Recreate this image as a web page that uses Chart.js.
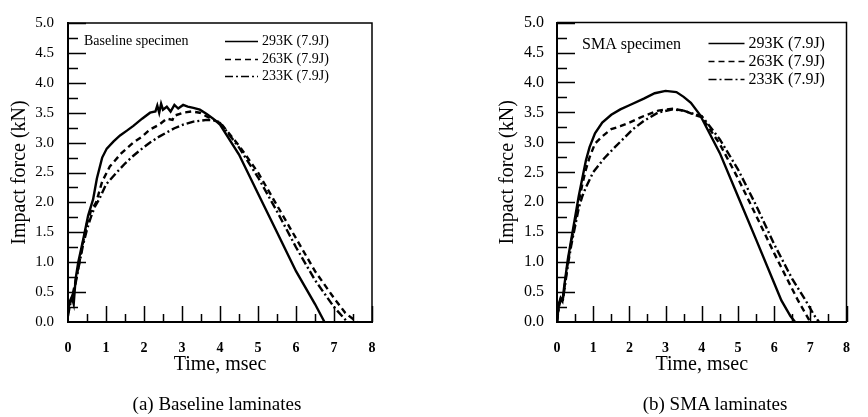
<!DOCTYPE html>
<html>
<head>
<meta charset="utf-8">
<script src="https://cdn.jsdelivr.net/npm/chart.js@4.4.0/dist/chart.umd.min.js"></script>
<style>
  body { margin: 0; background: #fff; }
  #wrap { position: relative; width: 868px; height: 417px; }
  canvas { position: absolute; top: 0; }
  .cap { position: absolute; top: 393px; font-family: "Liberation Serif", serif; font-size: 19px; color: #000; white-space: nowrap; transform: translateX(-50%); }
</style>
</head>
<body>
<div id="wrap">
  <canvas id="chartA" width="434" height="417" style="left:0"></canvas>
  <canvas id="chartB" width="434" height="417" style="left:434px"></canvas>
  <div class="cap" style="left:217px">(a) Baseline laminates</div>
  <div class="cap" style="left:715px">(b) SMA laminates</div>
</div>
<script>
// (a) Baseline specimen, time (msec) / force (kN)
const base293T = [0, 0.05, 0.1, 0.15, 0.2, 0.27, 0.4, 0.53, 0.66, 0.76, 0.9, 1.02, 1.2, 1.37, 1.55, 1.72, 1.95, 2.16, 2.3, 2.35, 2.4, 2.45, 2.5, 2.6, 2.7, 2.8, 2.9, 3.03, 3.15, 3.3, 3.47, 3.65, 3.82, 4.0, 4.5, 5.0, 5.5, 6.0, 6.5, 6.75];
const base293F = [0.2, 0.35, 0.42, 0.3, 0.72, 1.0, 1.38, 1.78, 2.05, 2.4, 2.75, 2.9, 3.02, 3.12, 3.2, 3.28, 3.4, 3.5, 3.52, 3.62, 3.5, 3.65, 3.55, 3.6, 3.52, 3.63, 3.57, 3.63, 3.6, 3.58, 3.55, 3.48, 3.4, 3.3, 2.8, 2.15, 1.5, 0.85, 0.3, 0];
const base263T = [0, 0.05, 0.1, 0.2, 0.3, 0.4, 0.5, 0.6, 0.74, 0.9, 1.1, 1.4, 1.72, 1.95, 2.16, 2.4, 2.6, 2.75, 2.8, 3.03, 3.25, 3.47, 3.7, 3.9, 4.0, 4.5, 5.0, 5.5, 6.0, 6.5, 7.0, 7.3, 7.6];
const base263F = [0.15, 0.3, 0.4, 0.68, 1.0, 1.35, 1.65, 1.85, 2.0, 2.35, 2.6, 2.82, 3.0, 3.1, 3.22, 3.3, 3.4, 3.38, 3.45, 3.5, 3.52, 3.5, 3.42, 3.36, 3.34, 2.95, 2.5, 1.95, 1.4, 0.85, 0.4, 0.15, 0];
const base233T = [0, 0.05, 0.1, 0.2, 0.3, 0.4, 0.5, 0.6, 0.7, 0.82, 1.0, 1.28, 1.5, 1.72, 1.95, 2.16, 2.4, 2.6, 2.8, 3.03, 3.3, 3.65, 3.85, 4.0, 4.5, 5.0, 5.5, 6.0, 6.5, 7.0, 7.35];
const base233F = [0.1, 0.28, 0.38, 0.65, 0.98, 1.3, 1.55, 1.75, 1.92, 2.05, 2.3, 2.5, 2.65, 2.78, 2.9, 3.0, 3.1, 3.17, 3.24, 3.3, 3.35, 3.38, 3.37, 3.33, 2.92, 2.42, 1.85, 1.25, 0.7, 0.25, 0];

// (b) SMA specimen
const sma293T = [0, 0.05, 0.1, 0.15, 0.2, 0.3, 0.4, 0.5, 0.6, 0.7, 0.8, 0.9, 1.05, 1.25, 1.5, 1.75, 2.0, 2.4, 2.7, 3.0, 3.3, 3.5, 3.7, 3.95, 4.5, 5.0, 5.5, 6.0, 6.2, 6.45, 6.58];
const sma293F = [0, 0.3, 0.4, 0.35, 0.6, 1.05, 1.4, 1.75, 2.1, 2.4, 2.7, 2.92, 3.15, 3.33, 3.46, 3.55, 3.62, 3.73, 3.82, 3.86, 3.84, 3.76, 3.66, 3.46, 2.82, 2.1, 1.38, 0.65, 0.36, 0.1, 0];
const sma263T = [0, 0.05, 0.1, 0.15, 0.2, 0.3, 0.4, 0.5, 0.6, 0.7, 0.8, 0.9, 1.05, 1.25, 1.5, 1.75, 2.0, 2.4, 2.8, 3.2, 3.5, 3.8, 4.0, 4.5, 5.0, 5.5, 6.0, 6.5, 6.66, 7.0];
const sma263F = [0, 0.28, 0.38, 0.33, 0.55, 1.0, 1.35, 1.68, 2.0, 2.3, 2.55, 2.75, 2.98, 3.1, 3.22, 3.27, 3.33, 3.44, 3.53, 3.56, 3.53, 3.46, 3.42, 2.97, 2.4, 1.78, 1.15, 0.55, 0.36, 0];
const sma233T = [0, 0.05, 0.1, 0.15, 0.2, 0.3, 0.4, 0.5, 0.6, 0.7, 0.8, 1.0, 1.3, 1.6, 1.9, 2.1, 2.4, 2.8, 3.2, 3.5, 3.8, 4.0, 4.5, 5.0, 5.5, 6.0, 6.5, 6.87, 7.1, 7.24];
const sma233F = [0, 0.25, 0.36, 0.32, 0.52, 0.95, 1.3, 1.6, 1.9, 2.1, 2.25, 2.5, 2.73, 2.92, 3.1, 3.22, 3.36, 3.5, 3.55, 3.53, 3.47, 3.44, 3.05, 2.55, 1.95, 1.3, 0.72, 0.36, 0.12, 0];

const seriesLabels = ["293K (7.9J)", "263K (7.9J)", "233K (7.9J)"];
const seriesDash = [[], [6, 4], [8, 3, 2, 3]];

const SERIF = "'Liberation Serif', 'Times New Roman', serif";

function toPoints(ts, fs) {
  return ts.map((t, i) => ({ x: t, y: fs[i] }));
}

// box, inward ticks, note text and the line legend
const framePlugin = {
  id: "frame",
  afterDraw(chart, args, opts) {
    const { ctx, chartArea: a } = chart;
    const xs = chart.scales.x, ys = chart.scales.y;
    ctx.save();
    ctx.strokeStyle = "#000";
    ctx.lineWidth = 1.5;
    ctx.beginPath();
    ctx.moveTo(a.left, a.top);
    ctx.lineTo(a.right, a.top);
    ctx.lineTo(a.right, a.bottom);
    ctx.stroke();

    ctx.lineWidth = 1.5;
    ctx.beginPath();
    for (let i = 1; i <= 16; i++) {
      const px = Math.round(xs.getPixelForValue(i / 2)) + 0.5;
      const len = i % 2 === 0 ? 16 : 8;
      ctx.moveTo(px, a.bottom);
      ctx.lineTo(px, a.bottom - len);
    }
    for (let i = 1; i <= 20; i++) {
      const py = Math.round(ys.getPixelForValue(i / 4)) + 0.5;
      const len = i % 2 === 0 ? 18 : 10;
      ctx.moveTo(a.left, py);
      ctx.lineTo(a.left + len, py);
    }
    ctx.stroke();

    ctx.fillStyle = "#000";
    ctx.textBaseline = "middle";
    ctx.textAlign = "left";
    ctx.font = opts.noteSize + "px " + SERIF;
    ctx.fillText(opts.note, a.left + opts.noteX, a.top + opts.noteY);

    ctx.font = opts.legSize + "px " + SERIF;
    chart.data.datasets.forEach((ds, i) => {
      const yy = Math.round(a.top + opts.legY + i * opts.legGap) + 0.5;
      const tx = a.right - opts.legX;
      ctx.setLineDash(ds.borderDash || []);
      ctx.lineWidth = 1.5;
      ctx.beginPath();
      ctx.moveTo(tx - 4 - opts.legLine, yy);
      ctx.lineTo(tx - 4, yy);
      ctx.stroke();
      ctx.setLineDash([]);
      ctx.fillText(ds.label, tx, yy);
    });
    ctx.restore();
  },
};

function makeChart(id, series, cfg) {
  return new Chart(id, {
    type: "scatter",
    data: {
      datasets: series.map((s, i) => ({
        label: seriesLabels[i],
        data: toPoints(s[0], s[1]),
        borderColor: "#000",
        backgroundColor: "#000",
        borderWidth: 2.4,
        borderDash: seriesDash[i],
        showLine: true,
        pointRadius: 0,
        tension: 0,
      })),
    },
    options: {
      responsive: false,
      animation: false,
      layout: { padding: { left: cfg.padLeft, right: cfg.padRight, top: 20, bottom: 0 } },
      plugins: {
        legend: { display: false },
        tooltip: { enabled: false },
        frame: cfg.frame,
      },
      scales: {
        x: {
          type: "linear",
          min: 0,
          max: 8,
          afterFit: (s) => { s.height = 95; },
          grid: { display: false, drawTicks: false },
          border: { display: true, color: "#000", width: 2 },
          ticks: {
            stepSize: 1,
            padding: 18,
            color: "#000",
            maxRotation: 0,
            font: { family: SERIF, size: 14, weight: "bold" },
          },
          title: {
            display: true,
            text: "Time, msec",
            color: "#000",
            padding: { top: 0, bottom: 40 },
            font: { family: SERIF, size: 20 },
          },
        },
        y: {
          min: 0,
          max: 5,
          afterFit: (s) => { s.width = cfg.yWidth; },
          grid: { display: false, drawTicks: false },
          border: { display: true, color: "#000", width: 2 },
          ticks: {
            stepSize: 0.5,
            padding: cfg.yTickPad,
            color: "#000",
            font: { family: SERIF, size: cfg.yTickSize },
            callback: (v) => v.toFixed(1),
          },
          title: {
            display: true,
            text: "Impact force (kN)",
            color: "#000",
            padding: { top: cfg.yTitlePad, bottom: 0 },
            font: { family: SERIF, size: 20 },
          },
        },
      },
    },
    plugins: [framePlugin],
  });
}

makeChart("chartA", [[base293T, base293F], [base263T, base263F], [base233T, base233F]], {
  padLeft: 0, padRight: 62, yWidth: 68, yTickPad: 14, yTickSize: 15, yTitlePad: 8,
  frame: { note: "Baseline specimen", noteX: 16, noteY: 18, noteSize: 14,
           legX: 110, legY: 18, legGap: 17.5, legLine: 33, legSize: 14 },
});

makeChart("chartB", [[sma293T, sma293F], [sma263T, sma263F], [sma233T, sma233F]], {
  padLeft: 60, padRight: 7, yWidth: 63, yTickPad: 13, yTickSize: 16, yTitlePad: 2,
  frame: { note: "SMA specimen", noteX: 25, noteY: 22, noteSize: 16,
           legX: 98, legY: 20, legGap: 18, legLine: 36, legSize: 16 },
});
</script>
</body>
</html>
